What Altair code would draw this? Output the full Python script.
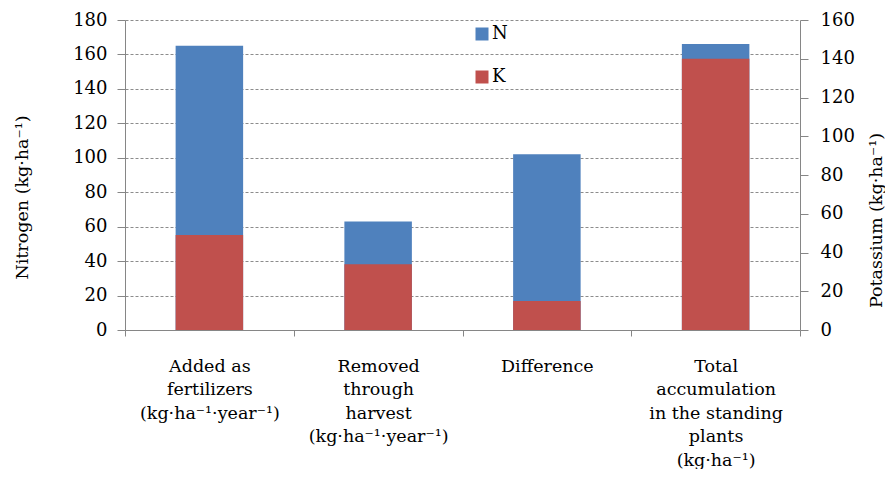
import altair as alt
import pandas as pd

categories = [
    "Added as|fertilizers|(kg·ha⁻¹·year⁻¹)",
    "Removed|through|harvest|(kg·ha⁻¹·year⁻¹)",
    "Difference",
    "Total|accumulation|in the standing|plants|(kg·ha⁻¹)",
]
nitrogen = [165, 63, 102, 166]
potassium = [49, 34, 15, 140]
series_names = ["N", "K"]
series_colors = ["#4F81BD", "#C0504D"]

df = pd.DataFrame({"cat": categories, "N": nitrogen, "K": potassium})

FONT = "DejaVu Serif"

x_enc = alt.X(
    "cat:N",
    sort=categories,
    scale=alt.Scale(paddingInner=0, paddingOuter=0),
    axis=alt.Axis(
        title=None,
        labelAngle=0,
        labelExpr="split(datum.label, '|')",
        labelLineHeight=23.5,
        labelBaseline="top",
        labelPadding=21,
        labelFontSize=17.5,
        labelFont=FONT,
        labelColor="black",
        tickBand="extent",
        tickSize=6,
        tickColor="#868686",
        domainColor="#868686",
        grid=False,
        labelLimit=300,
    ),
)

color_enc = alt.Color(
    "series:N",
    scale=alt.Scale(domain=series_names, range=series_colors),
    legend=alt.Legend(
        title=None,
        orient="none",
        legendX=348,
        legendY=5,
        symbolType="square",
        symbolSize=169,
        symbolStrokeWidth=0,
        symbolOpacity=1,
        labelFont=FONT,
        labelFontSize=18,
        labelColor="black",
        labelOffset=1,
        rowPadding=25,
        padding=0,
    ),
)

n_layer = (
    alt.Chart(df)
    .transform_calculate(series="'N'")
    .mark_bar(width=alt.RelativeBandSize(0.4), opacity=1)
    .encode(
        x=x_enc,
        y=alt.Y(
            "N:Q",
            scale=alt.Scale(domain=[0, 180], nice=False),
            axis=alt.Axis(
                title="Nitrogen (kg·ha⁻¹)",
                values=list(range(0, 181, 20)),
                titleFont=FONT,
                titleFontSize=17.5,
                titleFontWeight="normal",
                titleColor="black",
                titleX=-103,
                titleY=177,
                titleAngle=270,
                titleAlign="center",
                titleBaseline="middle",
                labelFont=FONT,
                labelFontSize=18,
                labelColor="black",
                labelPadding=10,
                tickSize=8,
                tickColor="#868686",
                domainColor="#868686",
                grid=True,
                gridColor="#8c8c8c",
                gridDash=[3, 2],
                gridWidth=1,
            ),
        ),
        color=color_enc,
    )
)

k_layer = (
    alt.Chart(df)
    .transform_calculate(series="'K'")
    .mark_bar(width=alt.RelativeBandSize(0.4), opacity=1)
    .encode(
        x=x_enc,
        y=alt.Y(
            "K:Q",
            scale=alt.Scale(domain=[0, 160], nice=False),
            axis=alt.Axis(
                orient="right",
                title="Potassium (kg·ha⁻¹)",
                values=list(range(0, 161, 20)),
                titleFont=FONT,
                titleFontSize=17.5,
                titleFontWeight="normal",
                titleColor="black",
                titleX=76,
                titleY=200,
                titleAngle=270,
                titleAlign="center",
                titleBaseline="middle",
                labelFont=FONT,
                labelFontSize=18,
                labelColor="black",
                labelPadding=12,
                tickSize=8,
                tickColor="#868686",
                domainColor="#868686",
                grid=False,
            ),
        ),
        color=color_enc,
    )
)

chart = (
    alt.layer(n_layer, k_layer)
    .resolve_scale(y="independent")
    .properties(
        width=675,
        height=310,
        padding={"left": 117, "top": 12, "right": 85, "bottom": 139},
        autosize=alt.AutoSizeParams(type="none"),
    )
    .configure(background="white")
    .configure_view(stroke=None)
)

chart.save("out.html", embed_options={"renderer": "svg", "actions": False})
